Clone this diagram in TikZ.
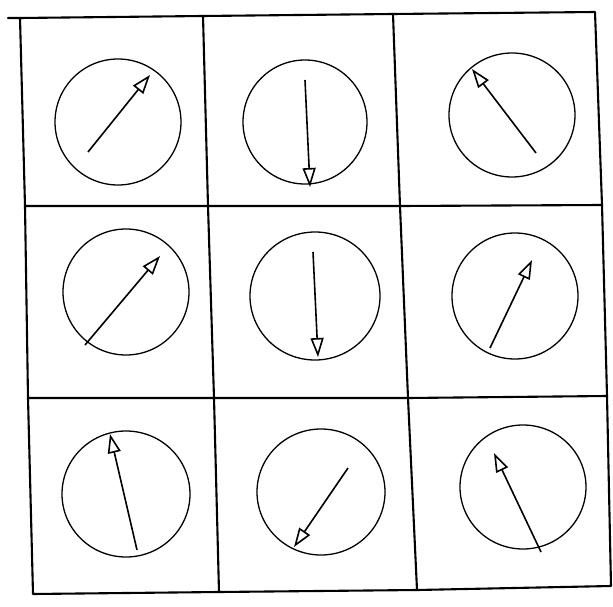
\documentclass[tikz,border=0pt]{standalone}
\usetikzlibrary{arrows.meta}
\begin{document}
\begin{tikzpicture}[x=1pt,y=-1pt,
  gridline/.style={line width=2.1pt,line cap=round,line join=round},
  dial/.style={line width=1.3pt},
  needle/.style={line width=1.6pt,-{Triangle[open,length=19pt,width=13pt,line width=1.6pt]}}]
\useasboundingbox (0,0) rectangle (613,607);
% corners and grid points
\coordinate (c00) at (20,18);  \coordinate (c01) at (203,16);  \coordinate (c02) at (393,14);  \coordinate (c03) at (595,12);
\coordinate (c10) at (25,206); \coordinate (c11) at (208,206); \coordinate (c12) at (400,206); \coordinate (c13) at (602,205);
\coordinate (c20) at (28,398); \coordinate (c21) at (214,398); \coordinate (c22) at (408,398); \coordinate (c23) at (607,396);
\coordinate (c30) at (33,594); \coordinate (c31) at (219,592); \coordinate (c32) at (417,590); \coordinate (c33) at (611,586);
\coordinate (lx) at (8,18);
% outer and grid lines
\draw[gridline] (lx) -- (c00) -- (c01) -- (c02) -- (c03) -- (c13) -- (c23) -- (c33) -- (c32) -- (c31) -- (c30) -- (c20) -- (c10) -- (c00);
\draw[gridline] (c10) -- (c11) -- (c12) -- (c13);
\draw[gridline] (c20) -- (c21) -- (c22) -- (c23);
\draw[gridline] (c01) -- (c11) -- (c21) -- (c31);
\draw[gridline] (c02) -- (c12) -- (c22) -- (c32);
% dials
\draw[dial] (118,122) ellipse [x radius=63,y radius=63];
\draw[dial] (305,122) ellipse [x radius=62,y radius=62];
\draw[dial] (512,115) ellipse [x radius=63,y radius=62];
\draw[dial] (126,292) ellipse [x radius=63,y radius=63];
\draw[dial] (315,296) ellipse [x radius=65,y radius=64];
\draw[dial] (515,296) ellipse [x radius=63,y radius=63];
\draw[dial] (126,494) ellipse [x radius=64,y radius=63];
\draw[dial] (321,492) ellipse [x radius=64,y radius=63];
\draw[dial] (523,487) ellipse [x radius=63,y radius=62];
% needles
\coordinate (t1) at (88,152);  \coordinate (h1) at (150,75);
\coordinate (t2) at (305,80);  \coordinate (h2) at (310,187);
\coordinate (t3) at (536,153); \coordinate (h3) at (472,69);
\coordinate (t4) at (85,345);  \coordinate (h4) at (160,256);
\coordinate (t5) at (313,252); \coordinate (h5) at (318,357);
\coordinate (t6) at (490,348); \coordinate (h6) at (532,260);
\coordinate (t7) at (137,550); \coordinate (h7) at (110,434);
\coordinate (t8) at (348,468); \coordinate (h8) at (294,547);
\coordinate (t9) at (541,552); \coordinate (h9) at (494,453);
\foreach \i in {1,...,9} \draw[needle] (t\i) -- (h\i);
\end{tikzpicture}
\end{document}
